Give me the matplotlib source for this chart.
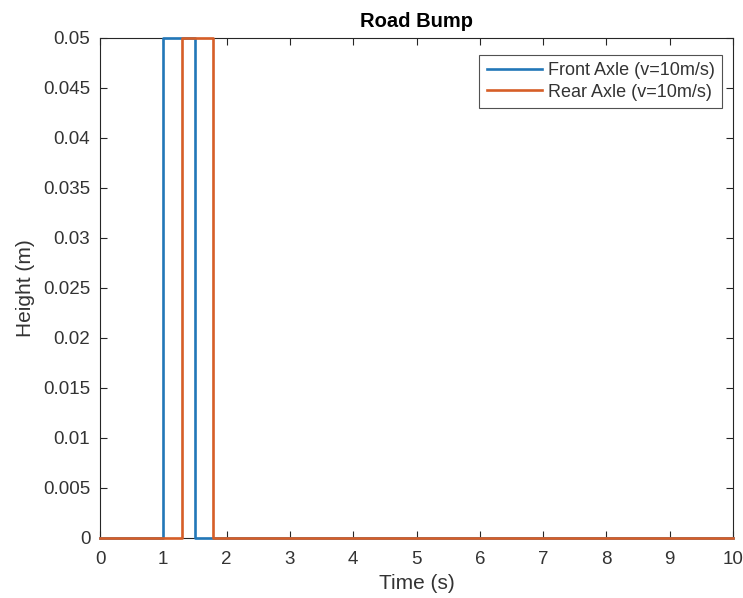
import matplotlib
matplotlib.use("Agg")
import matplotlib.pyplot as plt
from matplotlib.ticker import FixedLocator, FixedFormatter

plt.rcParams['font.family'] = ['Liberation Sans', 'DejaVu Sans']

# Data: step profiles (breakpoints)
front_t = [0, 1.0, 1.0, 1.5, 1.5, 10]
front_h = [0, 0, 0.05, 0.05, 0, 0]
rear_t = [0, 1.29, 1.29, 1.79, 1.79, 10]
rear_h = [0, 0, 0.05, 0.05, 0, 0]

x_ticks = list(range(0, 11))
y_ticks = [0, 0.005, 0.01, 0.015, 0.02, 0.025, 0.03, 0.035, 0.04, 0.045, 0.05]
y_labels = ['0', '0.005', '0.01', '0.015', '0.02', '0.025', '0.03', '0.035', '0.04', '0.045', '0.05']

W, H = 743, 598
fig = plt.figure(figsize=(W / 100, H / 100), dpi=100)
ax = fig.add_axes([100 / W, 1 - 538 / H, (733 - 100) / W, (538 - 38) / H])

c_front = '#2277B8'
c_rear = '#D65E27'
ax.plot(front_t, front_h, color=c_front, lw=1.9, label='Front Axle (v=10m/s)', clip_on=False, zorder=3)
ax.plot(rear_t, rear_h, color=c_rear, lw=1.9, label='Rear Axle (v=10m/s)', clip_on=False, zorder=3)

ax.set_xlim(0, 10)
ax.set_ylim(0, 0.05)
ax.xaxis.set_major_locator(FixedLocator(x_ticks))
ax.yaxis.set_major_locator(FixedLocator(y_ticks))
ax.yaxis.set_major_formatter(FixedFormatter(y_labels))

axcol = '#262626'
txtcol = '#333333'
for s in ax.spines.values():
    s.set_color(axcol)
    s.set_linewidth(0.8)
ax.tick_params(direction='in', length=5, width=0.8, colors=axcol, labelsize=13.5,
               top=True, right=True, labelcolor=txtcol)
ax.tick_params(axis='x', pad=9)
ax.tick_params(axis='y', pad=7)

ax.set_xlabel('Time (s)', fontsize=15, color=txtcol, labelpad=5)
ax.set_ylabel('Height (m)', fontsize=15, color=txtcol, labelpad=6)
ax.set_title('Road Bump', fontsize=14.5, fontweight='bold', color='black', pad=8)

leg = ax.legend(loc='upper right', bbox_to_anchor=(722 / W, 1 - 55 / H),
                bbox_transform=fig.transFigure, borderaxespad=0,
                fontsize=13, frameon=True, fancybox=False,
                edgecolor=axcol, borderpad=0.4, labelspacing=0.25, handlelength=3.1,
                handletextpad=0.3)
leg.get_frame().set_linewidth(0.8)
for t in leg.get_texts():
    t.set_color(txtcol)

fig.savefig('out.png', dpi=100)
